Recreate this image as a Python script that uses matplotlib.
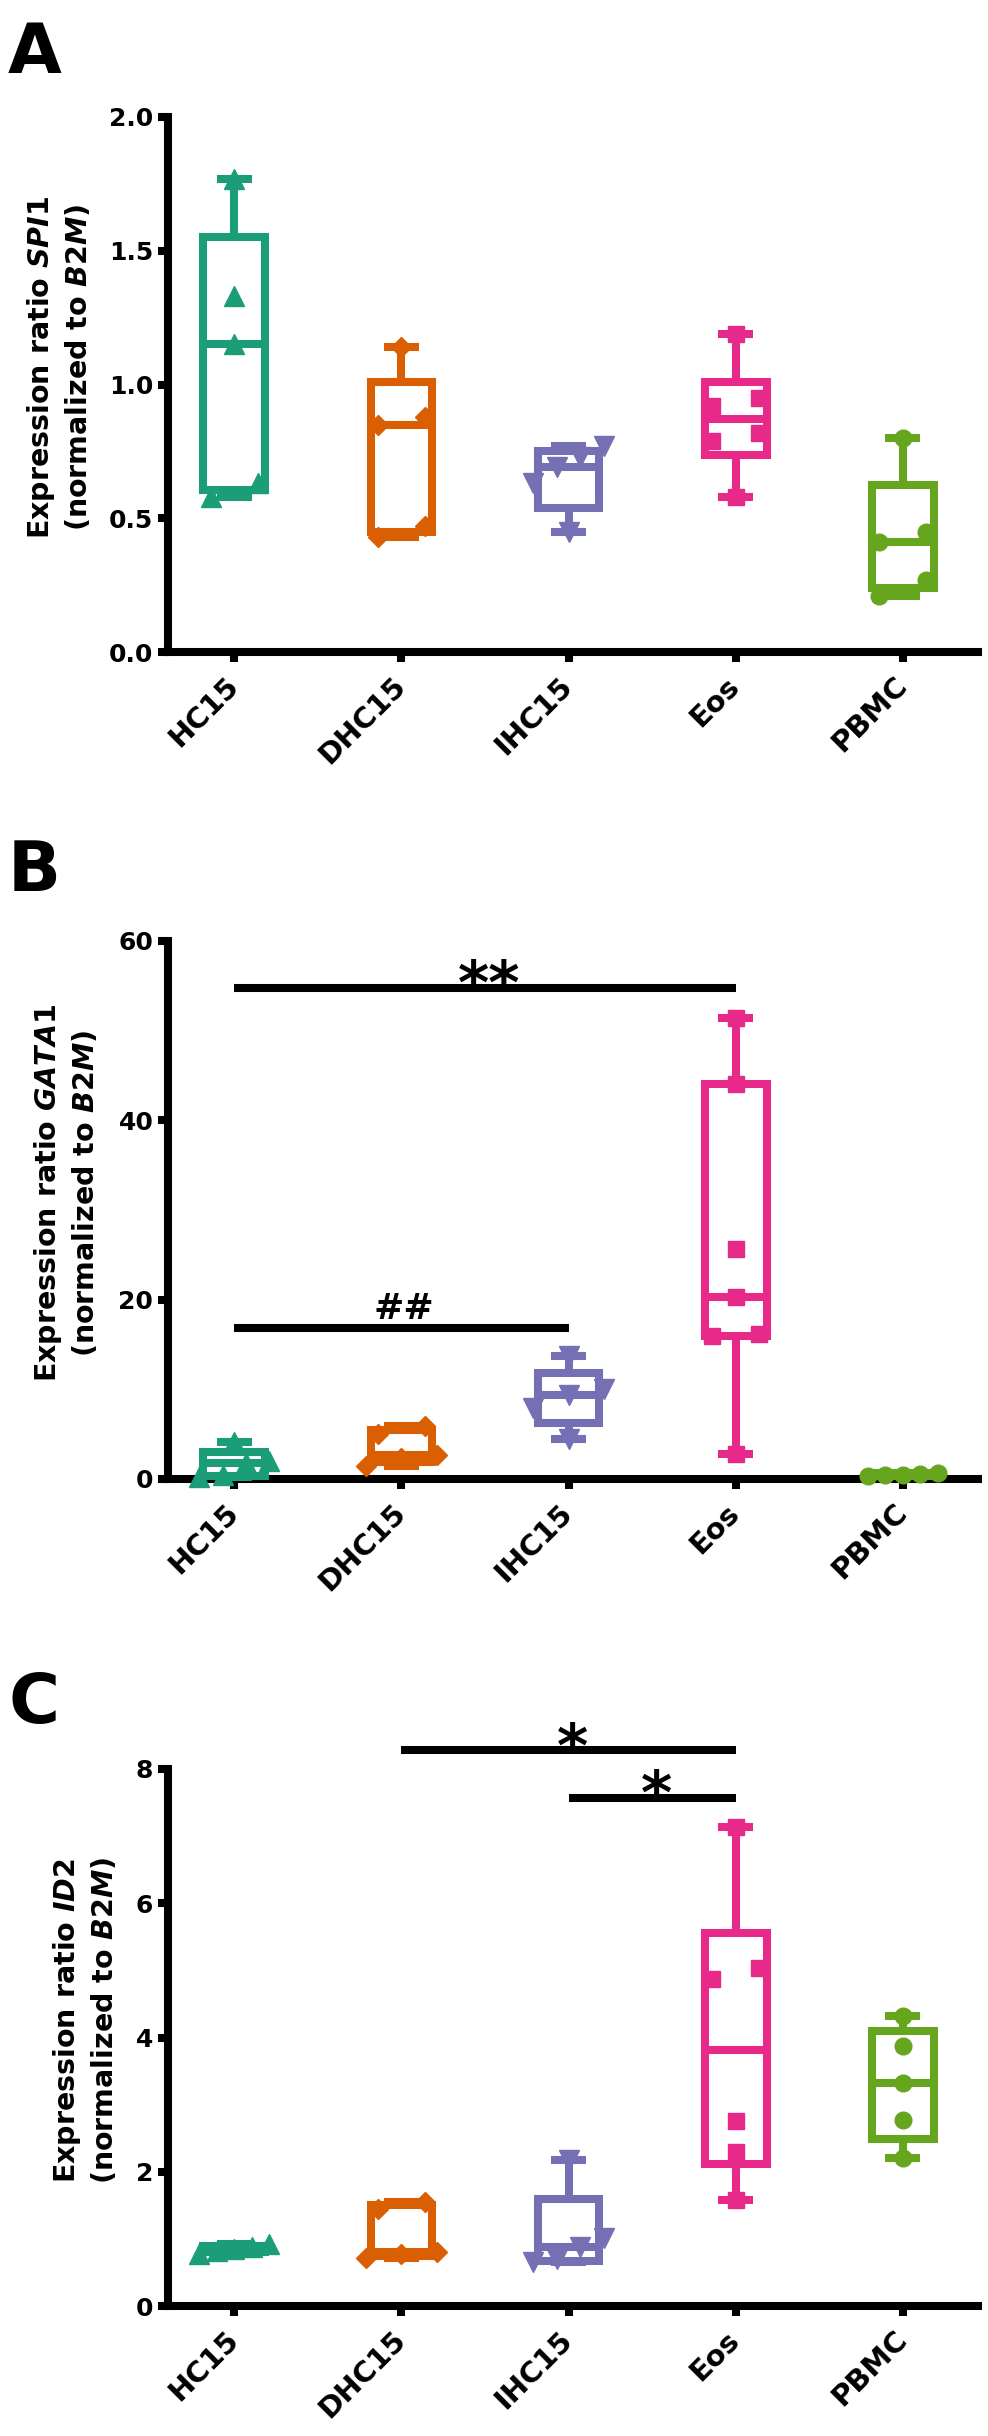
import numpy as np
import matplotlib
matplotlib.use("Agg")
import matplotlib.pyplot as plt
from matplotlib.patches import Rectangle
from matplotlib.transforms import ScaledTranslation

# ---- data ---------------------------------------------------------------
categories = ["HC15", "DHC15", "IHC15", "Eos", "PBMC"]

spi1_values = [
    [0.58, 0.63, 1.15, 1.33, 1.77],
    [0.43, 0.47, 0.85, 0.88, 1.14],
    [0.45, 0.63, 0.69, 0.73, 0.77],
    [0.58, 0.79, 0.82, 0.92, 0.95, 1.19],
    [0.21, 0.27, 0.41, 0.45, 0.80],
]
gata1_values = [
    [0.2, 0.5, 1.8, 2.0, 4.1],
    [1.5, 2.3, 2.7, 5.0, 5.9],
    [4.5, 7.9, 9.4, 10.0, 13.7],
    [2.8, 15.9, 16.2, 20.3, 25.7, 44.0, 51.4],
    [0.3, 0.45, 0.5, 0.55, 0.7],
]
id2_values = [
    [0.78, 0.82, 0.85, 0.88, 0.92],
    [0.72, 0.78, 0.80, 1.45, 1.55],
    [0.65, 0.70, 0.88, 1.02, 2.17],
    [1.58, 2.29, 2.76, 4.87, 5.03, 7.14],
    [2.21, 2.77, 3.32, 3.87, 4.32],
]

# significance brackets: (group a, group b, height, label)
spi1_sig = []
gata1_sig = [(0, 3, 54.8, "**"), (0, 2, 16.8, "##")]
id2_sig = [(1, 3, 8.28, "*"), (2, 3, 7.57, "*")]

spi1_ticks = [0.0, 0.5, 1.0, 1.5, 2.0]
gata1_ticks = [0, 20, 40, 60]
id2_ticks = [0, 2, 4, 6, 8]

# ---- style --------------------------------------------------------------
colors = ["#1B9E77", "#D95F02", "#7570B3", "#E7298A", "#66A61E"]
markers = ["^", "D", "v", "s", "o"]
msizes = [14, 10, 14, 11.5, 12]

plt.rcParams["font.family"] = ["DejaVu Sans"]
plt.rcParams["font.weight"] = "bold"
plt.rcParams["mathtext.fontset"] = "custom"
plt.rcParams["mathtext.rm"] = "DejaVu Sans:bold"
plt.rcParams["mathtext.bf"] = "DejaVu Sans:bold"
plt.rcParams["mathtext.it"] = "DejaVu Sans:italic:bold"

W, H = 988, 2436
LW = 5.8          # line width (pt), ~8 px at 100 dpi
BOX_W = 0.37
CAP_W = 0.21


def fx(px):
    return px / W


def fy(px):
    return 1 - px / H


def swarm_offsets(vals, px_per_unit, thresh=18):
    """Spread points that sit too close to each other sideways."""
    vals = np.asarray(vals, dtype=float)
    order = np.argsort(vals)
    v = vals[order]
    groups = [[0]]
    for i in range(1, len(v)):
        if (v[i] - v[i - 1]) * px_per_unit < thresh:
            groups[-1].append(i)
        else:
            groups.append([i])
    offs = np.zeros(len(v))
    for g in groups:
        k = len(g)
        if k > 1:
            step = min(0.28, 0.42 / (k - 1))
            offs[g] = (np.arange(k) - (k - 1) / 2) * step
    result = np.empty(len(v))
    result[order] = offs
    return result


def draw_panel(fig, top_px, bottom_px, values, ticks, tick_fmt, gene,
               letter, letter_top, label_x, sig):
    left_px, right_px = 167.5, 978
    ax = fig.add_axes([fx(left_px), fy(bottom_px),
                       fx(right_px) - fx(left_px),
                       (bottom_px - top_px) / H])
    ymax = ticks[-1]
    ax.set_xlim(-0.40, 4.45)
    ax.set_ylim(0, ymax)
    px_per_unit = (bottom_px - top_px) / ymax

    for i, vals in enumerate(values):
        c = colors[i]
        q1, med, q3 = np.percentile(vals, [25, 50, 75], method="weibull")
        lo, hi = min(vals), max(vals)
        ax.add_patch(Rectangle((i - BOX_W / 2, q1), BOX_W, q3 - q1, fill=False,
                               ec=c, lw=LW, joinstyle="miter", zorder=3,
                               clip_on=False))
        ax.plot([i - BOX_W / 2, i + BOX_W / 2], [med, med], color=c, lw=LW,
                solid_capstyle="butt", zorder=3, clip_on=False)
        ax.plot([i, i], [q3, hi], color=c, lw=LW, solid_capstyle="butt",
                zorder=3, clip_on=False)
        ax.plot([i, i], [lo, q1], color=c, lw=LW, solid_capstyle="butt",
                zorder=3, clip_on=False)
        for y in (lo, hi):
            ax.plot([i - CAP_W / 2, i + CAP_W / 2], [y, y], color=c, lw=LW,
                    solid_capstyle="butt", zorder=3, clip_on=False)
        offs = swarm_offsets(vals, px_per_unit)
        ax.plot(i + offs, vals, linestyle="none", marker=markers[i],
                ms=msizes[i], color=c, mec=c, zorder=4, clip_on=False)

    for a, b, h, txt in sig:
        ax.plot([a, b], [h, h], color="black", lw=LW, solid_capstyle="butt",
                clip_on=False)
        if "#" in txt:
            ax.annotate(txt, xy=((a + b) / 2, h), xytext=(2, 7),
                        textcoords="offset points", ha="center",
                        va="baseline", fontsize=26, fontweight="bold",
                        annotation_clip=False)
        else:
            ax.annotate(txt, xy=((a + b) / 2, h), xytext=(3, 0),
                        textcoords="offset points", ha="center",
                        va="center", fontsize=43, fontweight="bold",
                        annotation_clip=False)

    ax.set_xticks(range(len(categories)))
    ax.set_xticklabels(categories, rotation=45, ha="right", va="center",
                       rotation_mode="anchor", fontsize=21, fontweight="bold")
    # nudge the slanted labels so their ends sit just right of the ticks
    shift = ScaledTranslation(6 / 100, -12 / 100, fig.dpi_scale_trans)
    for lab in ax.get_xticklabels():
        lab.set_transform(lab.get_transform() + shift)
    ax.set_yticks(ticks)
    ax.set_yticklabels([tick_fmt.format(t) for t in ticks], fontsize=18,
                       fontweight="bold")
    ax.tick_params(axis="both", length=7.2, width=LW, color="black")
    ax.tick_params(axis="x", pad=14)
    ax.tick_params(axis="y", pad=3)
    for s in ("top", "right"):
        ax.spines[s].set_visible(False)
    for s in ("left", "bottom"):
        ax.spines[s].set_linewidth(LW)

    mid = (top_px + bottom_px) / 2 - 17
    fig.text(fx(label_x), fy(mid),
             "Expression ratio $\\mathit{%s}$\n(normalized to $\\mathit{B2M}$)"
             % gene, rotation=90, ha="center", va="center", fontsize=20.5,
             fontweight="bold", linespacing=1.3)
    fig.text(fx(8), fy(letter_top), letter, fontsize=50, fontweight="bold",
             ha="left", va="top")
    return ax


fig = plt.figure(figsize=(W / 100, H / 100), dpi=100)
draw_panel(fig, 117, 652, spi1_values, spi1_ticks, "{:.1f}", "SPI1",
           "A", 20, 59, spi1_sig)
draw_panel(fig, 941, 1479, gata1_values, gata1_ticks, "{:d}", "GATA1",
           "B", 838, 66, gata1_sig)
draw_panel(fig, 1769, 2306, id2_values, id2_ticks, "{:d}", "ID2",
           "C", 1670, 85, id2_sig)

fig.savefig("out.png", dpi=100, facecolor="white")
